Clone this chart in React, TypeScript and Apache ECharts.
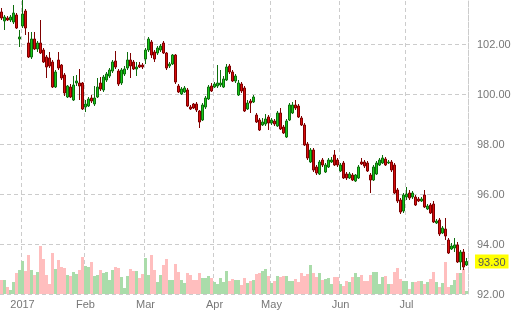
import React, { useEffect, useRef } from "react";
import * as echarts from "echarts";

// Trading days shown on the category axis
const dates = [
  "2016-12-21","2016-12-22","2016-12-23","2016-12-27","2016-12-28","2016-12-29","2016-12-30",
  "2017-01-03","2017-01-04","2017-01-05","2017-01-06","2017-01-09","2017-01-10","2017-01-11","2017-01-12","2017-01-13",
  "2017-01-16","2017-01-17","2017-01-18","2017-01-19","2017-01-20","2017-01-23","2017-01-24","2017-01-25","2017-01-26",
  "2017-01-27","2017-01-30","2017-01-31",
  "2017-02-01","2017-02-02","2017-02-03","2017-02-06","2017-02-07","2017-02-08","2017-02-09","2017-02-10","2017-02-13",
  "2017-02-14","2017-02-15","2017-02-16","2017-02-17","2017-02-20","2017-02-21","2017-02-22","2017-02-23","2017-02-24",
  "2017-02-27","2017-02-28",
  "2017-03-01","2017-03-02","2017-03-03","2017-03-06","2017-03-07","2017-03-08","2017-03-09","2017-03-10","2017-03-13",
  "2017-03-14","2017-03-15","2017-03-16","2017-03-17","2017-03-20","2017-03-21","2017-03-22","2017-03-23","2017-03-24",
  "2017-03-27","2017-03-28","2017-03-29","2017-03-30","2017-03-31",
  "2017-04-03","2017-04-04","2017-04-05","2017-04-06","2017-04-07","2017-04-10","2017-04-11","2017-04-12","2017-04-13",
  "2017-04-17","2017-04-18","2017-04-19","2017-04-20","2017-04-21","2017-04-24","2017-04-25","2017-04-26","2017-04-27",
  "2017-04-28",
  "2017-05-01","2017-05-02","2017-05-03","2017-05-04","2017-05-05","2017-05-08","2017-05-09","2017-05-10","2017-05-11",
  "2017-05-12","2017-05-15","2017-05-16","2017-05-17","2017-05-18","2017-05-19","2017-05-22","2017-05-23","2017-05-24",
  "2017-05-25","2017-05-26","2017-05-29","2017-05-30","2017-05-31",
  "2017-06-01","2017-06-02","2017-06-05","2017-06-06","2017-06-07","2017-06-08","2017-06-09","2017-06-12","2017-06-13",
  "2017-06-14","2017-06-15","2017-06-16","2017-06-19","2017-06-20","2017-06-21","2017-06-22","2017-06-23","2017-06-26",
  "2017-06-27","2017-06-28","2017-06-29","2017-06-30",
  "2017-07-03","2017-07-04","2017-07-05","2017-07-06","2017-07-07","2017-07-10","2017-07-11","2017-07-12","2017-07-13",
  "2017-07-14","2017-07-17","2017-07-18","2017-07-19","2017-07-20","2017-07-21","2017-07-24","2017-07-25","2017-07-26",
  "2017-07-27","2017-07-28","2017-07-31",
];

// [open, close, low, high]
const candles = [
  [103.28,103.04,102.96,103.44],[102.92,103.08,102.56,103.16],[103.04,102.96,102.92,103.12],[102.96,103.08,102.88,103.16],
  [102.88,103.24,102.80,103.56],[103.16,102.64,102.60,103.24],[102.20,102.28,101.88,102.56],
  [102.72,103.20,102.64,103.76],[103.32,102.64,102.36,103.40],[102.04,101.48,101.44,102.48],[101.48,102.20,101.40,102.48],
  [102.20,101.80,101.76,102.48],[101.80,102.04,101.68,102.12],[102.04,101.64,101.60,102.96],[101.76,101.28,101.24,101.84],
  [101.48,101.08,100.64,101.56],[101.44,101.12,101.04,101.68],[101.28,100.28,100.24,101.36],[100.28,100.88,100.24,100.96],
  [101.36,101.04,100.96,101.68],[101.16,100.64,100.56,101.20],[100.76,100.04,99.92,100.84],[99.88,100.32,99.84,100.36],
  [100.28,99.88,99.84,100.40],[99.76,100.36,99.72,100.72],[100.44,100.52,100.32,100.76],[100.44,100.32,99.76,101.00],
  [100.44,99.40,99.36,100.48],
  [99.48,99.60,99.28,99.76],[99.52,99.80,99.48,99.88],[99.84,99.72,99.64,99.96],[99.60,99.84,99.52,100.32],
  [99.88,100.28,99.84,100.64],[100.44,100.20,100.12,100.68],[100.16,100.68,100.08,100.76],[100.56,100.80,100.48,100.88],
  [100.72,100.96,100.64,101.04],[100.92,101.28,100.84,101.36],[101.32,101.08,101.00,101.72],[100.92,100.40,100.32,101.00],
  [100.44,100.96,100.36,101.04],[100.80,101.00,100.72,101.12],[101.04,101.36,100.96,101.68],[101.36,101.12,100.64,101.64],
  [101.28,101.00,100.96,101.36],[101.00,101.08,100.72,101.28],[101.16,101.08,101.04,101.28],[101.16,101.08,101.00,101.24],
  [101.40,101.76,101.20,101.84],[101.76,102.20,101.68,102.28],[102.08,101.56,101.44,102.16],[101.68,101.40,101.28,101.76],
  [101.64,101.84,101.56,101.92],[101.76,101.92,101.68,102.00],[102.04,101.64,101.60,102.12],[101.64,101.04,100.96,101.68],
  [101.12,101.20,101.04,101.28],[101.20,101.56,101.16,101.60],[101.56,100.48,100.40,101.60],[100.32,100.08,100.04,100.40],
  [100.00,100.20,99.96,100.28],[100.08,100.24,100.04,100.32],[100.16,99.52,99.48,100.24],[99.48,99.40,99.36,99.56],
  [99.60,99.44,99.40,99.64],[99.60,99.36,99.28,99.68],[99.32,98.88,98.64,99.36],[98.96,99.56,98.92,99.64],
  [99.48,99.84,99.40,99.92],[99.80,100.28,99.76,100.36],[100.32,100.12,100.08,100.44],
  [100.28,100.40,100.24,100.48],[100.32,100.44,100.24,101.16],[100.36,100.44,100.28,100.96],[100.28,100.60,100.24,100.72],
  [100.56,101.08,100.52,101.20],[101.12,100.88,100.80,101.20],[100.88,100.52,100.48,100.96],[100.52,100.72,100.44,100.80],
  [99.96,100.44,99.92,100.56],[100.40,100.12,100.04,100.48],[100.24,99.32,99.28,100.32],[99.40,99.64,99.36,99.76],
  [99.72,99.64,99.24,99.80],[99.68,99.88,99.64,99.96],[99.16,98.88,98.84,99.24],[98.96,98.56,98.52,99.04],
  [98.76,98.88,98.72,99.04],[98.80,99.00,98.72,99.20],[99.08,98.84,98.56,99.16],
  [98.84,98.96,98.76,99.04],[98.92,98.80,98.72,99.00],[98.72,99.24,98.68,99.32],[99.24,98.60,98.56,99.44],
  [98.68,98.44,98.40,98.76],[98.28,98.92,98.24,99.00],[98.96,99.56,98.92,99.64],[99.24,99.56,99.20,99.68],
  [99.56,99.44,99.36,99.76],[99.52,99.08,99.04,99.60],[99.04,98.76,98.72,99.12],[98.76,97.96,97.92,98.84],
  [98.00,97.44,97.36,98.08],[97.28,97.76,97.24,97.84],[97.76,96.96,96.88,97.84],[97.08,96.84,96.76,97.16],
  [96.80,97.28,96.76,97.36],[97.36,97.16,97.08,97.44],[96.88,97.16,96.84,97.24],[97.08,97.36,97.04,97.44],
  [97.28,97.36,97.24,97.48],[97.56,97.16,97.12,97.76],[97.36,97.16,97.08,97.44],
  [96.92,97.16,96.88,97.24],[97.24,96.64,96.60,97.32],[96.80,96.64,96.56,96.88],[96.64,96.80,96.60,96.88],
  [96.76,96.56,96.52,96.84],[96.52,96.76,96.48,96.80],[96.64,97.08,96.60,97.16],[97.28,97.20,97.16,97.44],
  [97.28,97.12,97.04,97.36],[97.24,96.92,96.88,97.32],[96.76,96.56,96.04,96.84],[96.56,97.08,96.52,97.16],
  [96.80,97.24,96.76,97.32],[97.16,97.36,97.12,97.44],[97.24,97.44,97.20,97.56],[97.40,97.16,97.12,97.48],
  [97.24,97.28,97.20,97.36],[97.28,96.96,96.88,97.36],[97.16,96.04,96.00,97.24],[96.16,95.72,95.64,96.24],
  [95.76,95.28,95.20,95.84],[95.32,95.96,95.24,96.04],
  [95.88,96.00,95.76,96.28],[96.04,95.84,95.76,96.16],[95.88,96.04,95.80,96.12],[95.88,95.56,95.52,95.96],
  [95.80,95.72,95.68,95.88],[95.72,95.80,95.68,95.88],[95.96,95.48,95.44,96.16],[95.40,95.52,95.36,95.60],
  [95.56,95.24,95.20,95.64],[95.60,94.88,94.84,95.72],[94.84,94.92,94.80,95.00],[94.96,94.40,94.32,95.04],
  [94.44,94.64,94.40,94.72],[94.60,94.32,94.16,95.04],[94.16,93.64,93.60,94.24],[93.80,93.92,93.76,94.04],
  [93.84,93.96,93.68,94.24],[93.96,93.28,93.24,94.08],[93.28,93.68,92.96,93.76],[93.68,93.08,92.96,93.80],
  [93.16,93.30,93.12,93.44],
];

// daily volume, thousands
const volumes = [
  14,14,7,4,12,21,24,33,23,39, 24,19,22,48,35,19,10,41,25,34,
  27,26,19,18,22,20,24,37,28,27, 32,18,19,24,21,22,14,24,27,26,
  17,6,18,25,23,23,16,20,36,19, 39,24,12,19,29,35,14,14,30,22,
  14,11,21,19,14,14,21,16,16,18, 16,12,10,16,12,23,13,15,14,14,
  9,16,11,13,14,20,21,23,25,18, 11,13,18,17,18,18,13,13,15,12,
  21,18,20,29,21,17,21,14,15,16, 10,17,17,10,8,13,12,17,21,17,
  19,13,13,19,22,22,10,17,18,10, 10,22,26,15,13,13,5,12,12,13,
  13,10,12,15,22,12,7,11,32,7, 9,14,21,21,25,3,
];

const monthLabels = ["2017", "Feb", "Mar", "Apr", "May", "Jun", "Jul", "Aug", "Sep", "Oct", "Nov", "Dec"];

const isMonthStart = (i: number) =>
  i > 0 && i < dates.length && dates[i].slice(0, 7) !== dates[i - 1].slice(0, 7);

export default function App() {
  const ref = useRef<HTMLDivElement>(null);
  useEffect(() => {
    if (!ref.current) return;
    const chart = echarts.init(ref.current, undefined, { renderer: "svg" });
    const grid = "#cccccc";
    const lastClose = candles[candles.length - 1][1];
    chart.setOption({
      animation: false,
      textStyle: { fontFamily: "Liberation Sans, Arial, sans-serif" },
      grid: [
        { left: 0, right: 49, top: -6, bottom: 23, outerBoundsMode: "none", containLabel: false },
        { left: 0, right: 49, bottom: 23, height: 60, outerBoundsMode: "none", containLabel: false },
      ],
      xAxis: [
        {
          type: "category",
          data: dates,
          gridIndex: 0,
          boundaryGap: true,
          axisLine: { show: false },
          axisTick: { show: false },
          axisLabel: {
            interval: (i: number) => isMonthStart(i),
            formatter: (v: string) => monthLabels[Number(v.slice(5, 7)) - 1],
            color: "#777",
            fontSize: 11,
            margin: 4,
          },
          splitLine: {
            show: true,
            interval: (i: number) => isMonthStart(i),
            lineStyle: { color: grid, type: [4, 3] },
          },
        },
        { type: "category", data: dates, gridIndex: 1, show: false, boundaryGap: true },
      ],
      yAxis: [
        {
          type: "value",
          position: "right",
          min: 92,
          max: 104,
          interval: 2,
          axisLine: { show: true, lineStyle: { color: grid, type: [4, 3] } },
          axisTick: { show: false },
          axisLabel: {
            formatter: (v: number) => v.toFixed(2),
            color: "#777",
            fontSize: 11,
            margin: 9,
            showMaxLabel: false,
          },
          splitLine: { show: true, lineStyle: { color: grid, type: [4, 3] } },
        },
        { type: "value", gridIndex: 1, min: 0, max: 60, show: false },
      ],
      series: [
        {
          type: "bar",
          xAxisIndex: 1,
          yAxisIndex: 1,
          barCategoryGap: "0%",
          z: 1,
          data: volumes.map((v, i) => ({
            value: v,
            itemStyle: { color: candles[i][1] >= candles[i][0] ? "#aadcaa" : "#ffbebe" },
          })),
        },
        {
          type: "candlestick",
          xAxisIndex: 0,
          yAxisIndex: 0,
          barWidth: 2,
          z: 3,
          clip: false,
          data: candles,
          itemStyle: {
            color: "#18c818",
            borderColor: "#0d6e0d",
            color0: "#d80c0c",
            borderColor0: "#7e0000",
            borderWidth: 1,
          },
          markLine: {
            silent: true,
            symbol: ["none", "none"],
            lineStyle: { color: "rgba(0,0,0,0)", width: 0 },
            label: {
              position: "end",
              distance: 7,
              formatter: (p: any) => Number(p.value).toFixed(2),
              backgroundColor: "#ffff00",
              color: "#555",
              fontSize: 11,
              padding: [1, 3, 1, 3],
              lineHeight: 12,
            },
            data: [{ yAxis: lastClose }],
          },
        },
      ],
    });
    return () => chart.dispose();
  }, []);
  return <div ref={ref} style={{ position: "fixed", left: 0, top: 0, width: 517, height: 317 }} />;
}
